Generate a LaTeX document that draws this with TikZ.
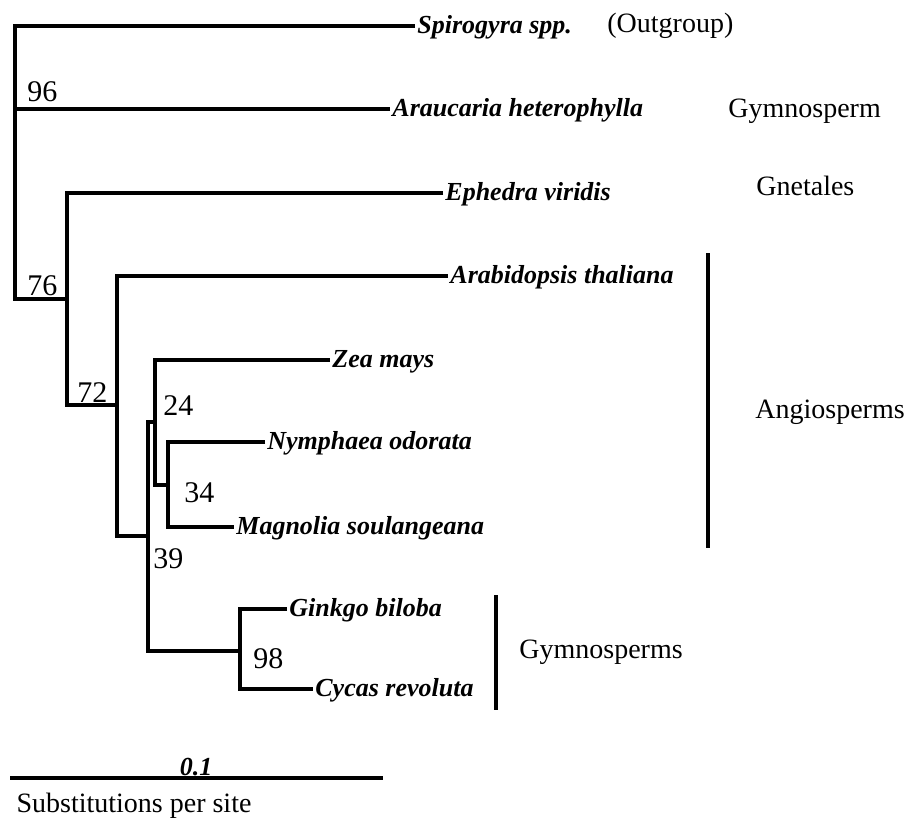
\documentclass[tikz,border=0pt]{standalone}
\usepackage{fontspec}
\setmainfont{Liberation Serif}
\begin{document}
\begin{tikzpicture}[x=0.5pt, y=-0.5pt,
        rama/.style={line width=2pt, draw=black, line join=miter},
        barra/.style={line width=1.6pt, draw=black},
        hoja/.style={anchor=west, inner xsep=1pt, inner ysep=0pt, text height=7pt, text depth=0pt,
                     font=\fontsize{13}{15}\selectfont\bfseries\itshape},
        soporte/.style={anchor=base west, inner sep=0pt, font=\fontsize{15}{17}\selectfont},
        grupo/.style={anchor=base west, inner sep=0pt, font=\fontsize{14}{16}\selectfont}
    ]
    \useasboundingbox (0,0) rectangle (913,820);

    % --- HOJAS ---
    \node[hoja] (spi) at (415,26) {Spirogyra spp.};
    \node[hoja] (ara) at (390,109) {Araucaria heterophylla};
    \node[hoja] (eph) at (443,193) {Ephedra viridis};
    \node[hoja] (arab) at (448,276) {Arabidopsis thaliana};
    \node[hoja] (zea) at (330,360) {Zea mays};
    \node[hoja] (nym) at (265,442) {Nymphaea odorata};
    \node[hoja] (mag) at (234,527) {Magnolia soulangeana};
    \node[hoja] (gin) at (287,609) {Ginkgo biloba};
    \node[hoja] (cyc) at (313,689) {Cycas revoluta};

    % --- NODOS INTERNOS ---
    \coordinate (n1) at (15,299);
    \coordinate (n2) at (67,299);
    \coordinate (n3) at (117,405);
    \coordinate (n4) at (148,536);
    \coordinate (n5) at (155,422);
    \coordinate (n6) at (168,485);
    \coordinate (n7) at (240,651);

    % --- RAMAS ---
    \draw[rama] (spi.west) -| (n1) -- (n2);
    \draw[rama] (ara.west) -- (ara.west -| n1);
    \draw[rama] (eph.west) -| (n2 |- n3) -- (n3);
    \draw[rama] (arab.west) -| (n3 |- n4) -- (n4);
    \draw[rama] (n5) -| (n4 |- n7) -- (n7);
    \draw[rama] (zea.west) -| (n5 |- n6) -- (n6);
    \draw[rama] (nym.west) -| (n6) |- (mag.west);
    \draw[rama] (gin.west) -| (n7) |- (cyc.west);

    % --- SOPORTE ---
    \node[soporte] (s96) at (27,101) {96};
    \node[soporte] (s76) at (27,295) {76};
    \node[soporte] (s72) at (77,402) {72};
    \node[soporte] (s24) at (163,415) {24};
    \node[soporte] (s34) at (184,502) {34};
    \node[soporte] (s39) at (153,568) {39};
    \node[soporte] (s98) at (253,668) {98};

    % --- GRUPOS ---
    \node[grupo] (outg) at (607,32) {(Outgroup)};
    \node[grupo] (gym1) at (728,117) {Gymnosperm};
    \node[grupo] (gne) at (756,195) {Gnetales};
    \node[grupo] (angio) at (755,418) {Angiosperms};
    \node[grupo] (gym2) at (519,658) {Gymnosperms};
    \coordinate (angA) at (708,253);
    \coordinate (angB) at (708,548);
    \coordinate (gymA) at (496,595);
    \coordinate (gymB) at (496,710);
    \draw[barra] (angA) -- (angB);
    \draw[barra] (gymA) -- (gymB);

    % --- ESCALA ---
    \coordinate (escA) at (10,778);
    \coordinate (escB) at (383,778);
    \draw[barra] (escA) -- (escB);
    \node[hoja, anchor=base] (esc) at (196,775) {0.1};
    \node[grupo, anchor=base] (sub) at (134,812) {Substitutions per site};
\end{tikzpicture}
\end{document}
